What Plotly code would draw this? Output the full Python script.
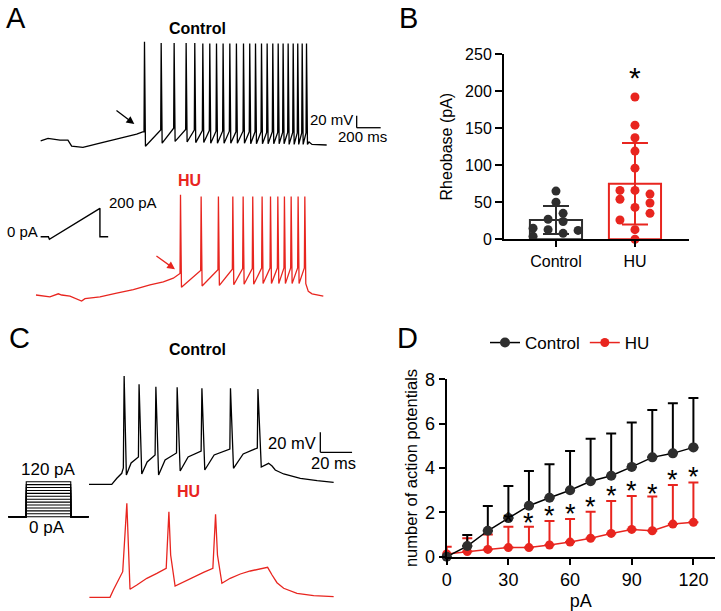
import plotly.graph_objects as go

W, H = 721, 611
RED = '#e8251f'
DARK = '#2e2e2e'
FONT = 'Liberation Sans, Arial, sans-serif'

# ---------------- A: ramp-evoked firing (time in ms, potential in mV)
ctl_ramp_pre_t = [6, 67, 167, 233, 264, 358, 500, 639, 750, 806, 856]
ctl_ramp_pre_v = [-73, -69, -72, -72, -82, -84, -77, -70, -65, -62, -58]
ctl_ramp_spike_t = [867, 1006, 1114, 1214, 1286, 1353, 1411, 1467, 1522, 1578, 1633, 1692,
                    1744, 1792, 1842, 1889, 1936, 1981, 2022, 2064, 2106, 2144, 2181, 2217]
ctl_ramp_thr = [-58, -55, -52, -54, -55, -56, -56, -57, -57, -57, -58, -57,
                -58, -58, -58, -59, -58, -59, -59, -59, -59, -60, -60, -60]
ctl_ramp_peak = [92, 90, 90, 90, 90, 89, 89, 89, 89, 89, 89, 89,
                 89, 89, 89, 89, 89, 89, 89, 89, 89, 89, 89, 89]
ctl_ramp_trough = [-82, -77, -74, -75, -76, -76, -77, -77, -77, -77, -77, -77,
                   -78, -78, -78, -78, -78, -78, -78, -79, -79, -79, -79, -79]
ctl_ramp_post_t = [2242, 2267, 2389]
ctl_ramp_post_v = [-75, -79, -80]

hu_ramp_pre_t = [-33, 83, 153, 181, 250, 306, 347, 375, 500, 639, 778, 917, 1028, 1111, 1153]
hu_ramp_pre_v = [-80, -83, -78, -80, -82, -86, -90, -86, -83, -77, -71, -63, -58, -52, -45]
hu_ramp_spike_t = [1167, 1339, 1483, 1603, 1689, 1769, 1847, 1917, 1978, 2033, 2089, 2147, 2203]
hu_ramp_thr = [-44, -39, -38, -37, -36, -36, -35, -35, -35, -35, -35, -35, -35]
hu_ramp_peak = [87, 84, 84, 84, 84, 84, 84, 84, 84, 84, 84, 84, 84]
hu_ramp_trough = [-67, -65, -64, -63, -62, -62, -61, -61, -61, -61, -61, -61, -61]
hu_ramp_post_t = [2236, 2267, 2361]
hu_ramp_post_v = [-74, -78, -82]

ramp_t = [-150, 0, 20, 1000, 1000, 1160]
ramp_pa = [0, 0, -18, 200, 0, 0]

# ---------------- B: rheobase (pA)
groups = ['Control', 'HU']
rheo_mean = [26, 75]
rheo_sd = [19, 55]
ctl_rheo = [65, 50, 35, 27, 24, 15, 13, 12, 8, 4]
ctl_jit = [0, 0, 0.09, -0.1, 0.09, -0.29, -0.1, 0.28, 0.09, -0.29]
hu_rheo = [192, 154, 137, 119, 96, 66, 66, 61, 54, 49, 43, 35, 26, 13, 0]
hu_jit = [0, 0, 0, 0, 0, -0.19, 0, 0.19, -0.19, 0.19, 0, 0.19, -0.19, 0, 0]

# ---------------- C: step-evoked firing at 120 pA (ms, mV)
ctl_step_t = [0, 15.4, 18.6, 21.7, 22.7, 23.2, 24.6, 27.6, 32.2, 32.6, 34.3, 37.7, 42.7,
              43.2, 44.9, 49.0, 56.2, 56.6, 58.5, 63.5, 71.7, 72.2, 74.0, 79.9, 89.8,
              90.2, 92.1, 98.2, 107.1, 107.5, 109.6, 112.1, 114.2, 116.4, 118.4,
              123.7, 134.2, 144.8, 155.2]
ctl_step_v = [-70, -70, -64, -59, -53.7, 38.3, -60.7, -48.7, -42.7, 30, -59.7, -47.7, -40.7,
              27.6, -60.7, -45.7, -38.7, 27, -56.7, -42.7, -36.7, 26, -55.7, -40.7, -34.7,
              26, -54, -39.7, -33.7, 25.3, -52.7, -50.7, -49, -51.7, -55.7,
              -59.7, -64, -66.4, -68]
hu_step_t = [1.3, 14.3, 16.4, 19.6, 22.3, 24.9, 26.1, 26.9, 31.2, 37.5, 43.8, 49.7,
             51.4, 52.5, 55.3, 60.6, 66.9, 73.2, 79.1, 80.8, 82.0, 84.8, 90.0, 96.4,
             102.7, 109.0, 113.6, 116.4, 119.5, 123.7, 132.1, 142.6, 155.2]
hu_step_v = [-70, -70, -62.7, -52.7, -44.4, 24, -29.4, -62, -57.7, -51, -46, -41,
             15.6, -27.7, -58.7, -54.4, -49.4, -45, -41, 13, -27.7, -56, -51, -46.7,
             -43.7, -42, -40, -47.7, -55.4, -61, -66, -68.4, -69.4]
step_levels = [0, 10, 20, 30, 40, 50, 60, 70, 80, 90, 100, 110, 120]
step_t = [-200, 0, 0, 500, 500, 700]

# ---------------- D: number of APs vs injected current
pa_steps = [0, 10, 20, 30, 40, 50, 60, 70, 80, 90, 100, 110, 120]
ctl_ap = [0, 0.48, 1.17, 1.74, 2.30, 2.66, 3.00, 3.40, 3.65, 4.05, 4.48, 4.66, 4.93]
ctl_ap_sd = [0, 0.50, 1.12, 1.45, 1.56, 1.51, 1.77, 1.92, 1.91, 2.00, 2.14, 2.26, 2.23]
hu_ap = [0.12, 0.23, 0.33, 0.41, 0.41, 0.53, 0.66, 0.83, 1.05, 1.23, 1.17, 1.47, 1.55]
hu_ap_sd = [0.33, 0.60, 0.67, 0.94, 0.94, 1.08, 1.04, 1.20, 1.46, 1.51, 1.54, 1.76, 1.80]
star_pa = [30, 40, 50, 60, 70, 80, 90, 100, 110, 120]
star_y = [1.68, 1.65, 1.95, 2.06, 2.36, 2.86, 3.08, 2.98, 3.58, 3.71]


def px(x):
    return x / W


def py(y):
    return 1 - y / H


def spike_train(pre_t, pre_v, spk_t, thr, peak, trough, post_t, post_v, rise=4, fall=12):
    t, v = list(pre_t), list(pre_v)
    for i, s in enumerate(spk_t):
        t += [s, s + rise, s + fall]
        v += [thr[i], peak[i], trough[i]]
    return t + list(post_t), v + list(post_v)


fig = go.Figure()

# A traces
ct, cv = spike_train(ctl_ramp_pre_t, ctl_ramp_pre_v, ctl_ramp_spike_t, ctl_ramp_thr,
                     ctl_ramp_peak, ctl_ramp_trough, ctl_ramp_post_t, ctl_ramp_post_v)
fig.add_trace(go.Scatter(x=ct, y=cv, mode='lines', line=dict(color='black', width=1.3),
                         xaxis='x3', yaxis='y3', showlegend=False, hoverinfo='skip'))
ht, hv = spike_train(hu_ramp_pre_t, hu_ramp_pre_v, hu_ramp_spike_t, hu_ramp_thr,
                     hu_ramp_peak, hu_ramp_trough, hu_ramp_post_t, hu_ramp_post_v)
fig.add_trace(go.Scatter(x=ht, y=hv, mode='lines', line=dict(color=RED, width=1.3),
                         xaxis='x4', yaxis='y4', showlegend=False, hoverinfo='skip'))
fig.add_trace(go.Scatter(x=ramp_t, y=ramp_pa, mode='lines', line=dict(color='black', width=1.4),
                         xaxis='x5', yaxis='y5', showlegend=False, hoverinfo='skip'))

# B bars, error bars and points
for i, (col, mean, sd) in enumerate(zip([DARK, RED], rheo_mean, rheo_sd)):
    fig.add_trace(go.Bar(x=[i], y=[mean], width=0.66,
                         marker=dict(color='white', line=dict(color=col, width=2)),
                         error_y=dict(type='data', array=[sd], color=col, thickness=2, width=13),
                         xaxis='x', yaxis='y', showlegend=False))
fig.add_trace(go.Scatter(x=[0 + j for j in ctl_jit], y=ctl_rheo, mode='markers',
                         marker=dict(color=DARK, size=9), xaxis='x', yaxis='y',
                         showlegend=False, cliponaxis=False))
fig.add_trace(go.Scatter(x=[1 + j for j in hu_jit], y=hu_rheo, mode='markers',
                         marker=dict(color=RED, size=9), xaxis='x', yaxis='y',
                         showlegend=False, cliponaxis=False))

# C traces
fig.add_trace(go.Scatter(x=ctl_step_t, y=ctl_step_v, mode='lines', line=dict(color='black', width=1.3),
                         xaxis='x6', yaxis='y6', showlegend=False, hoverinfo='skip'))
fig.add_trace(go.Scatter(x=hu_step_t, y=hu_step_v, mode='lines', line=dict(color=RED, width=1.3),
                         xaxis='x7', yaxis='y7', showlegend=False, hoverinfo='skip'))
sx, sy = [], []
for a in step_levels:
    sx += step_t + [None]
    sy += [0, 0, a, a, 0, 0, None]
fig.add_trace(go.Scatter(x=sx, y=sy, mode='lines', line=dict(color='black', width=1.1),
                         xaxis='x8', yaxis='y8', showlegend=False, hoverinfo='skip'))

# D curves
fig.add_trace(go.Scatter(x=pa_steps, y=hu_ap, mode='lines+markers', name='HU',
                         line=dict(color=RED, width=1.5), marker=dict(color=RED, size=9),
                         error_y=dict(type='data', array=hu_ap_sd, arrayminus=[0] * len(hu_ap),
                                      symmetric=False, color=RED, thickness=2, width=5),
                         xaxis='x2', yaxis='y2', legendrank=2, cliponaxis=False))
fig.add_trace(go.Scatter(x=pa_steps, y=ctl_ap, mode='lines+markers', name='Control',
                         line=dict(color='black', width=1.5), marker=dict(color=DARK, size=10),
                         error_y=dict(type='data', array=ctl_ap_sd, arrayminus=[0] * len(ctl_ap),
                                      symmetric=False, color='black', thickness=2, width=5),
                         xaxis='x2', yaxis='y2', legendrank=1, cliponaxis=False))


def hidden(domain, rng, anchor):
    return dict(domain=domain, range=rng, visible=False, fixedrange=True, anchor=anchor,
                automargin=False)


axis_style = dict(showline=True, linewidth=2, linecolor='black', ticks='outside', tickwidth=2,
                  tickcolor='black', showgrid=False, zeroline=False, fixedrange=True,
                  automargin=False, tickfont=dict(family=FONT, color='black'))

anns = []


def text(x, y, s, size, color='black', bold=False, xanchor='center', xref='paper', yref='paper'):
    if bold:
        s = '<b>' + s + '</b>'
    if xref == 'paper':
        x, y = px(x), py(y)
    anns.append(dict(x=x, y=y, xref=xref, yref=yref, text=s, showarrow=False, xanchor=xanchor,
                     yanchor='middle', font=dict(family=FONT, size=size, color=color)))


# panel letters and titles
text(16, 18, 'A', 29)
text(408, 18, 'B', 29)
text(19, 338, 'C', 29)
text(407, 338, 'D', 29)
text(197, 29, 'Control', 16, bold=True)
text(189, 180, 'HU', 16, color=RED, bold=True)
text(197, 349, 'Control', 16, bold=True)
text(188, 491, 'HU', 16, color=RED, bold=True)
text(22, 232, '0 pA', 15)
text(133, 202, '200 pA', 15)
text(48, 469, '120 pA', 17)
text(47, 527, '0 pA', 17)

# scale bars
shapes = []
for xr, yr, t0, v0, dt, dv in [('x3', 'y3', 2639, -51.2, 200, 20), ('x6', 'y6', 146.8, -38, 20, 20)]:
    shapes.append(dict(type='line', xref=xr, yref=yr, x0=t0, x1=t0, y0=v0, y1=v0 + dv,
                       line=dict(color='black', width=1.3)))
    shapes.append(dict(type='line', xref=xr, yref=yr, x0=t0, x1=t0 + dt, y0=v0, y1=v0,
                       line=dict(color='black', width=1.3)))
text(2625, -38.3, '20 mV', 15, xanchor='right', xref='x3', yref='y3')
text(2690, -66.2, '200 ms', 15, xref='x3', yref='y3')
text(145.5, -28.7, '20 mV', 16.5, xanchor='right', xref='x6', yref='y6')
text(155, -49, '20 ms', 16.5, xref='x6', yref='y6')

# arrows at first spike
anns.append(dict(x=786, y=-45, ax=625, ay=-20.5, xref='x3', yref='y3', axref='x3', ayref='y3',
                 text='', showarrow=True, arrowhead=2, arrowsize=1.2, arrowwidth=1.3, arrowcolor='black'))
anns.append(dict(x=1125, y=-37.2, ax=958, ay=-13.3, xref='x4', yref='y4', axref='x4', ayref='y4',
                 text='', showarrow=True, arrowhead=2, arrowsize=1.2, arrowwidth=1.3, arrowcolor=RED))

# significance stars
anns.append(dict(x=1, y=223, xref='x', yref='y', text='*', showarrow=False, yshift=-3,
                 font=dict(family=FONT, size=30, color='black')))
for xs, ys in zip(star_pa, star_y):
    anns.append(dict(x=xs, y=ys, xref='x2', yref='y2', text='*', showarrow=False, yshift=-3,
                     font=dict(family=FONT, size=27, color='black')))

fig.update_layout(
    width=W, height=H, margin=dict(l=0, r=0, t=0, b=0, autoexpand=False),
    paper_bgcolor='white', plot_bgcolor='white',
    font=dict(family=FONT, color='black'),
    barmode='overlay',
    xaxis=dict(axis_style, domain=[px(504), px(689)], range=[-0.658, 1.684], anchor='y',
               tickvals=[0, 1], ticktext=groups, ticklen=6, tickfont=dict(family=FONT, size=16, color='black')),
    yaxis=dict(axis_style, domain=[py(239.3), py(54)], range=[0, 250], anchor='x',
               tickvals=[0, 50, 100, 150, 200, 250], ticklen=7,
               tickfont=dict(family=FONT, size=16, color='black'),
               title=dict(text='Rheobase (pA)', font=dict(family=FONT, size=16), standoff=8)),
    xaxis2=dict(axis_style, domain=[px(446.7), px(715)], range=[0, 130.5], anchor='y2',
                tickvals=[0, 30, 60, 90, 120], ticklen=6,
                tickfont=dict(family=FONT, size=18, color='black'),
                title=dict(text='pA', font=dict(family=FONT, size=18), standoff=8)),
    yaxis2=dict(axis_style, domain=[py(556.7), py(379.3)], range=[0, 8], anchor='x2',
                tickvals=[0, 2, 4, 6, 8], ticklen=6,
                tickfont=dict(family=FONT, size=18, color='black'),
                title=dict(text='number of action potentials', font=dict(family=FONT, size=16.5), standoff=3)),
    xaxis3=hidden([0, px(400)], [-333, 3000], 'y3'),
    yaxis3=hidden([py(160), py(30)], [-105, 111.7], 'x3'),
    xaxis4=hidden([0, px(400)], [-333, 3000], 'y4'),
    yaxis4=hidden([py(310), py(180)], [-105, 111.7], 'x4'),
    xaxis5=hidden([px(38), px(112)], [-201, 1234], 'y5'),
    yaxis5=hidden([py(245), py(200)], [-58.4, 258.4], 'x5'),
    xaxis6=hidden([px(80), px(360)], [-4.61, 171.8], 'y6'),
    yaxis6=hidden([py(490), py(365)], [-75.7, 49.3], 'x6'),
    xaxis7=hidden([px(80), px(360)], [-4.61, 171.8], 'y7'),
    yaxis7=hidden([py(605), py(495)], [-77.7, 32.3], 'x7'),
    xaxis8=hidden([px(8), px(89)], [-205, 705], 'y8'),
    yaxis8=hidden([py(520), py(478)], [-11.3, 132.7], 'x8'),
    legend=dict(orientation='h', x=px(485), y=py(343), xanchor='left', yanchor='middle',
                font=dict(family=FONT, size=17, color='black'), bgcolor='rgba(0,0,0,0)',
                traceorder='normal'),
    shapes=shapes,
    annotations=anns,
)

# the page body has a default 8 px margin; remove it so the figure sits at the window corner
fig.write_html("out.html", config={'displayModeBar': False},
               post_script="document.body.style.margin='0';document.body.style.overflow='hidden';")
